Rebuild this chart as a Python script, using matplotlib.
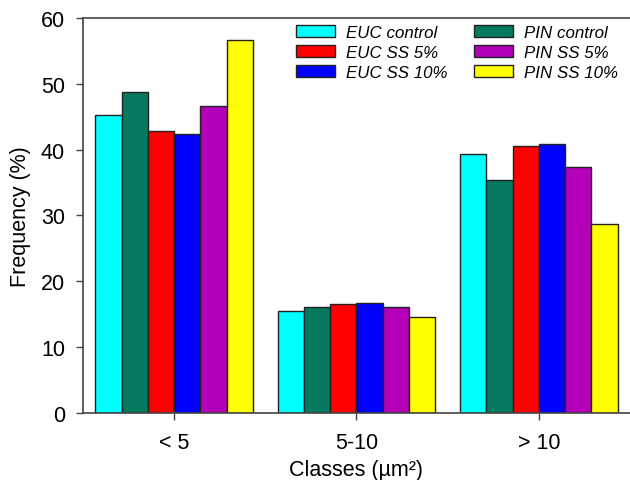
import matplotlib
matplotlib.use("Agg")
import matplotlib.pyplot as plt
import numpy as np

plt.rcParams['font.family'] = ['Liberation Sans', 'DejaVu Sans']

categories = ["< 5", "5-10", "> 10"]
series_names = ["EUC control", "PIN control", "EUC SS 5%", "EUC SS 10%", "PIN SS 5%", "PIN SS 10%"]
euc_control = [45.3, 15.4, 39.4]
pin_control = [48.7, 16.0, 35.4]
euc_ss5 = [42.8, 16.6, 40.6]
euc_ss10 = [42.3, 16.7, 40.9]
pin_ss5 = [46.6, 16.1, 37.4]
pin_ss10 = [56.7, 14.6, 28.7]
colors = ["#00FFFF", "#067A5E", "#FF0000", "#0000FF", "#B400B8", "#FFFF00"]

values = [euc_control, pin_control, euc_ss5, euc_ss10, pin_ss5, pin_ss10]

fig = plt.figure(figsize=(6.3, 4.81), dpi=100)
ax = fig.add_axes([0.1317, 0.1399, 0.8683, 0.8206])

x = np.arange(len(categories))
w = 0.144
handles = {}
for i, (name, vals, c) in enumerate(zip(series_names, values, colors)):
    off = (i - 2.5) * w
    b = ax.bar(x + off, vals, width=w, color=c, edgecolor="#222222", linewidth=1.0, label=name)
    handles[name] = b

ax.set_xlim(-0.5, 2.5)
ax.set_ylim(0, 60)
ax.set_yticks(range(0, 61, 10))
ax.set_xticks(x)
ax.set_xticklabels(categories)
ax.tick_params(axis='both', labelsize=15.5, direction='out', length=5, width=1, color="#444444")
ax.tick_params(axis='x', pad=9)
ax.tick_params(axis='y', pad=8)
for s in ['left', 'top', 'bottom']:
    ax.spines[s].set_color("#444444")
    ax.spines[s].set_linewidth(1.2)
ax.spines['right'].set_visible(False)

ax.set_ylabel("Frequency (%)", fontsize=15.5)
ax.set_xlabel("Classes (µm²)", fontsize=15.5)
ax.yaxis.set_label_coords(-0.095, 0.5)
ax.xaxis.set_label_coords(0.5, -0.118)

order = ["EUC control", "EUC SS 5%", "EUC SS 10%", "PIN control", "PIN SS 5%", "PIN SS 10%"]
leg = ax.legend([handles[n] for n in order], order, ncol=2, frameon=False,
                loc='upper left', bbox_to_anchor=(295.7 / 630, 1 - 25.5 / 481),
                bbox_transform=fig.transFigure, borderpad=0, borderaxespad=0,
                handlelength=2.3, handleheight=0.7, handletextpad=0.66,
                labelspacing=0.3, columnspacing=1.55,
                prop={'style': 'italic', 'size': 12.2})

fig.savefig("out.png", dpi=100)
